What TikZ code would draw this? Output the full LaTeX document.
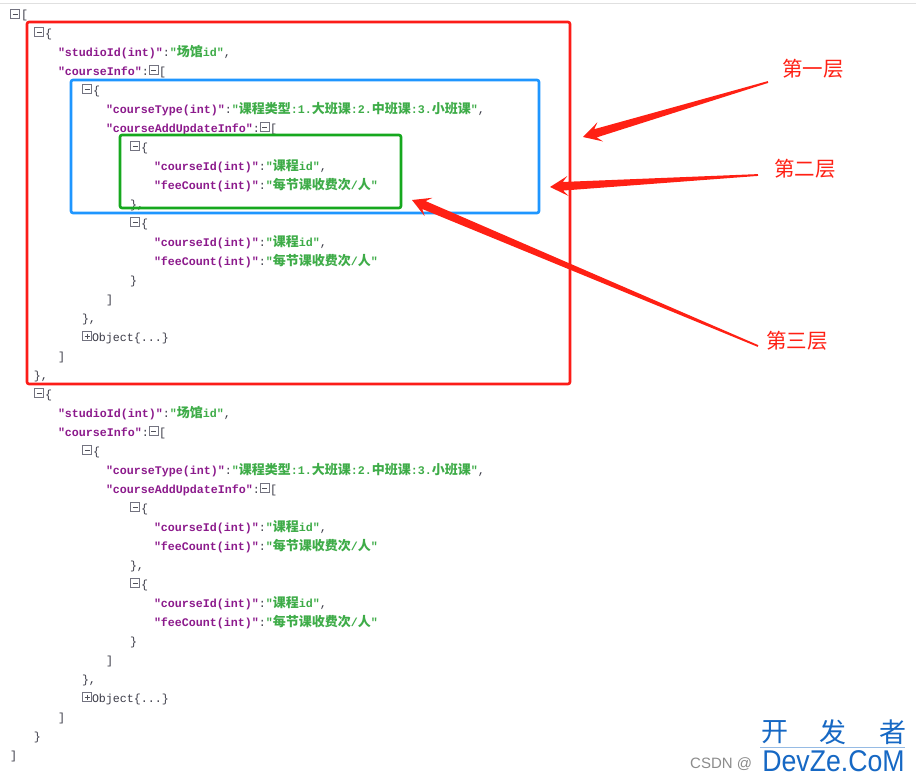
\documentclass[tikz,border=0pt]{standalone}
\usepackage{fontspec}
\usetikzlibrary{calc}
\newfontfamily\monof{Liberation Mono}
\newfontfamily\cjkf{Noto Sans CJK SC}
\newfontfamily\arialf{Liberation Sans}
\definecolor{keyc}{RGB}{140,26,140}
\definecolor{valc}{RGB}{62,172,72}
\definecolor{punc}{RGB}{60,60,72}
\definecolor{boxg}{RGB}{115,115,128}
\definecolor{redb}{RGB}{252,28,24}
\definecolor{blueb}{RGB}{30,150,255}
\definecolor{greenb}{RGB}{22,168,30}
\definecolor{arrred}{RGB}{255,32,20}
\definecolor{wmblue}{RGB}{22,104,196}
\newcommand\jk[1]{{\color{keyc}\bfseries "#1"}}
\newcommand\jv[1]{{\color{valc}\bfseries "#1"}}
\newcommand\zh[1]{{\cjkf\fontsize{13}{13}\selectfont #1}}
\newcommand\jp[1]{{\color{punc}\mdseries #1}}
\newcommand\taper[2]{%
  \coordinate (#1-j) at ($(#2)!13pt!(#1)$);
  \coordinate (#1-w) at ($(#2)!18pt!(#1)$);
  \fill[arrred] ($(#1)!0.9pt!90:(#2)$) -- ($(#1-j)!4.3pt!90:(#2)$) -- ($(#1-w)!10pt!90:(#2)$) -- (#2)
    -- ($(#1-w)!10pt!-90:(#2)$) -- ($(#1-j)!4.3pt!-90:(#2)$) -- ($(#1)!0.9pt!-90:(#2)$) -- cycle;}
\tikzset{
  txt/.style={anchor=base west, inner sep=0pt, outer sep=0pt, font=\monof\fontsize{11.66}{14}\selectfont},
  mbox/.style={draw=boxg, line width=0.8pt, minimum size=9pt, inner sep=0pt, fill=white},
  minusicon/.style={mbox, path picture={\draw[boxg!70!black, line width=0.9pt] ([xshift=2pt]path picture bounding box.west) -- ([xshift=-2pt]path picture bounding box.east);}},
  plusicon/.style={mbox, path picture={\draw[boxg!70!black, line width=0.9pt] ([xshift=2pt]path picture bounding box.west) -- ([xshift=-2pt]path picture bounding box.east) ([yshift=-2pt]path picture bounding box.north) -- ([yshift=2pt]path picture bounding box.south);}},
  layer/.style={text=arrred, font=\cjkf\fontsize{20.5}{20.5}\selectfont, inner sep=0pt},
  frame/.style={line width=2.6pt, rounded corners=2pt}
}
\begin{document}
\begin{tikzpicture}[x=1pt,y=-1pt]
\useasboundingbox (0,0) rectangle (916,782);
\fill[white] (0,0) rectangle (916,782);
\draw[black!12, line width=0.8pt] (0,3) -- (916,3);
% root
\node[minusicon] (root-i) at (15,14) {};
\node[txt] (root-b) at (21,18) {\jp{[}};
\foreach \b/\s in {1/0,2/361}{
\begin{scope}[yshift=-\s pt]
\node[minusicon] (b\b-i0) at (39,32) {};
\node[txt] (b\b-r0) at (45,37) {\jp{\{}};
\node[txt] (b\b-r1) at (58,56) {\jk{studioId(int)}\jp{:}\jv{\zh{场馆}id}\jp{,}};
\node[txt] (b\b-r2) at (58,75) {\jk{courseInfo}\jp{:}};
\node[minusicon] (b\b-i2) at (153.5,70) {};
\node[txt] (b\b-r2b) at (159,75) {\jp{[}};
\node[minusicon] (b\b-i3) at (87,89) {};
\node[txt] (b\b-r3) at (93,94) {\jp{\{}};
\node[txt] (b\b-r4) at (106,113) {\jk{courseType(int)}\jp{:}\jv{\zh{课程类型}:1.\zh{大班课}:2.\zh{中班课}:3.\zh{小班课}}\jp{,}};
\node[txt] (b\b-r5) at (106,132) {\jk{courseAddUpdateInfo}\jp{:}};
\node[minusicon] (b\b-i5) at (264.5,127) {};
\node[txt] (b\b-r5b) at (270,132) {\jp{[}};
\node[minusicon] (b\b-i6) at (135,146) {};
\node[txt] (b\b-r6) at (141,151) {\jp{\{}};
\node[txt] (b\b-r7) at (154,170) {\jk{courseId(int)}\jp{:}\jv{\zh{课程}id}\jp{,}};
\node[txt] (b\b-r8) at (154,189) {\jk{feeCount(int)}\jp{:}\jv{\zh{每节课收费次}/\zh{人}}};
\node[txt] (b\b-r9) at (130,208) {\jp{\},}};
\node[minusicon] (b\b-i10) at (135,222) {};
\node[txt] (b\b-r10) at (141,227) {\jp{\{}};
\node[txt] (b\b-r11) at (154,246) {\jk{courseId(int)}\jp{:}\jv{\zh{课程}id}\jp{,}};
\node[txt] (b\b-r12) at (154,265) {\jk{feeCount(int)}\jp{:}\jv{\zh{每节课收费次}/\zh{人}}};
\node[txt] (b\b-r13) at (130,284) {\jp{\}}};
\node[txt] (b\b-r14) at (106,303) {\jp{]}};
\node[txt] (b\b-r15) at (82,322) {\jp{\},}};
\node[plusicon] (b\b-i16) at (87,336) {};
\node[txt] (b\b-r16) at (92,341) {\jp{Object\{...\}}};
\node[txt] (b\b-r17) at (58,360) {\jp{]}};
\ifnum\b=1
\node[txt] (b\b-r18) at (34,379) {\jp{\},}};
\else
\node[txt] (b\b-r18) at (34,379) {\jp{\}}};
\fi
\end{scope}
}
\node[txt] (root-e) at (10,759) {\jp{]}};
% frames
\draw[frame, redb] (27,22) rectangle (570,384);
\draw[frame, blueb] (71,80) rectangle (539,213);
\draw[frame, greenb] (120,135) rectangle (401,208);
% labels
\node[layer] (l1) at (813,69) {第一层};
\node[layer] (l2) at (805,169) {第二层};
\node[layer] (l3) at (797,341) {第三层};
\coordinate (a1s) at (768,82);
\coordinate (a1e) at (583,137);
\coordinate (a2s) at (758,175);
\coordinate (a2e) at (550,187);
\coordinate (a3s) at (758,346);
\coordinate (a3e) at (412,200);
\taper{a1s}{a1e}
\taper{a2s}{a2e}
\taper{a3s}{a3e}
% watermark
\node[anchor=west, inner sep=0pt, text=black!45, font=\arialf\fontsize{15}{15}\selectfont] (csdn) at (690,764) {CSDN @};
\node[inner sep=0pt, text=wmblue, font=\cjkf\fontsize{27}{27}\selectfont] (wm1) at (774.5,732) {开};
\node[inner sep=0pt, text=wmblue, font=\cjkf\fontsize{27}{27}\selectfont] (wm2) at (833,732) {发};
\node[inner sep=0pt, text=wmblue, font=\cjkf\fontsize{27}{27}\selectfont] (wm3) at (892.5,732) {者};
\draw[wmblue!45, line width=0.8pt] (760,747) -- (905,747);
\node[inner sep=0pt, text=wmblue, font=\arialf\fontsize{30}{30}\selectfont, xscale=0.89] (wm4) at (833.5,761) {DevZe.CoM};
\end{tikzpicture}
\end{document}
